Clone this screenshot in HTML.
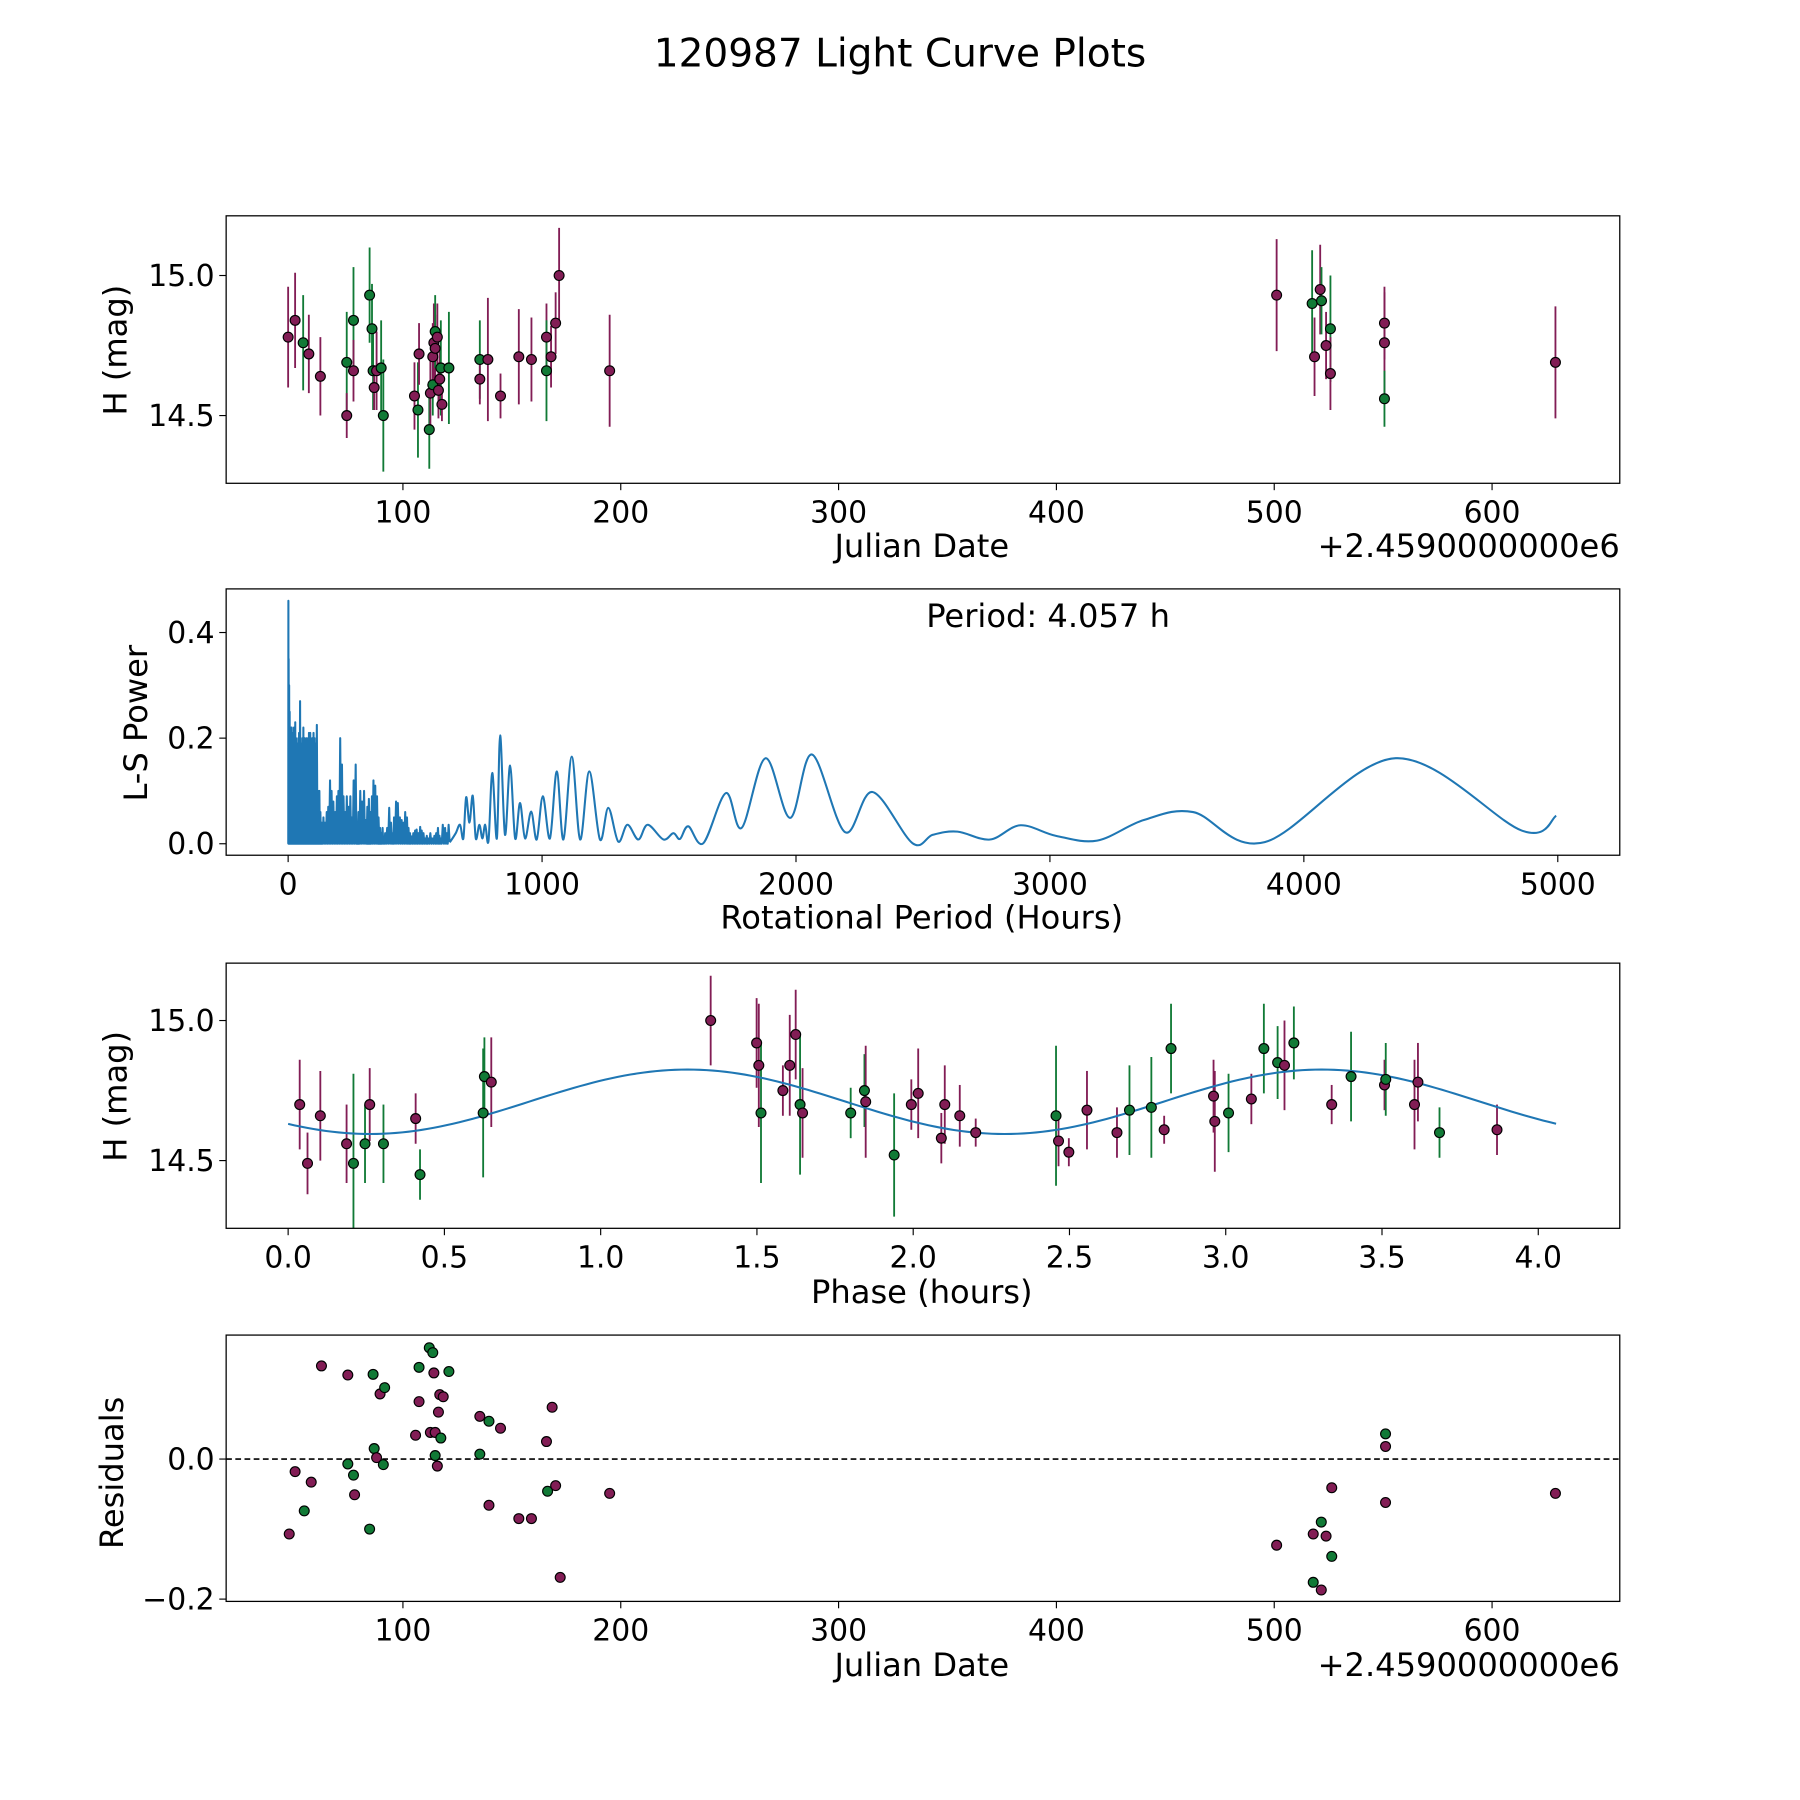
<!DOCTYPE html>
<html><head><meta charset="utf-8"><style>
html,body{margin:0;padding:0;background:#fff;}
svg{display:block;font-family:"DejaVu Sans","Liberation Sans",sans-serif;}
</style></head><body>
<svg id="fig" width="1800" height="1800" viewBox="0 0 1568 1568" xmlns="http://www.w3.org/2000/svg">
<rect width="1568" height="1568" fill="#fff"/>
<text x="784" y="58" font-size="34" text-anchor="middle">120987 Light Curve Plots</text>
<g id="layer"></g>
</svg>
<script>
// ---------- Panel 1: observations ----------
const obsDates=[47.3,50.5,54.2,56.8,62.1,74.2,74.2,77.3,77.3,84.7,85.8,86.3,86.8,87.9,90.0,91.0,105.3,106.9,107.4,112.1,112.6,113.7,113.7,114.2,114.8,114.8,115.8,116.3,116.9,117.4,117.9,121.1,135.3,135.3,139.0,144.8,153.2,159.0,165.9,165.9,168.0,170.1,171.7,194.9,501.1,517.4,518.5,521.1,521.7,523.8,525.8,525.8,550.6,550.6,550.6,629.1];
const obsMags=[14.78,14.84,14.76,14.72,14.64,14.69,14.50,14.84,14.66,14.93,14.81,14.66,14.60,14.66,14.67,14.50,14.57,14.52,14.72,14.45,14.58,14.61,14.71,14.76,14.74,14.80,14.78,14.59,14.63,14.67,14.54,14.67,14.70,14.63,14.70,14.57,14.71,14.70,14.78,14.66,14.71,14.83,15.00,14.66,14.93,14.90,14.71,14.95,14.91,14.75,14.81,14.65,14.83,14.76,14.56,14.69];
const obsErrs=[0.18,0.17,0.17,0.14,0.14,0.18,0.08,0.19,0.11,0.17,0.16,0.14,0.08,0.14,0.17,0.20,0.12,0.17,0.11,0.14,0.14,0.11,0.12,0.14,0.12,0.13,0.12,0.10,0.10,0.17,0.06,0.20,0.14,0.09,0.22,0.08,0.17,0.15,0.12,0.18,0.11,0.11,0.17,0.20,0.20,0.19,0.14,0.16,0.12,0.12,0.19,0.13,0.13,0.18,0.10,0.20];
const obsBand=["m","m","g","m","m","g","m","g","m","g","g","g","m","m","g","g","m","g","m","g","m","g","m","m","m","g","m","m","m","g","m","g","g","m","m","m","m","m","m","g","m","m","m","m","m","g","m","m","g","m","g","m","m","m","g","m"];
// ---------- Panel 2: periodogram ----------
const densePeriods=[1,2,4,6,8,10,12,14,17,20,23,26,28,31,34,37,40,43,47,50,53,56,60,63,66,70,74,78,82,87,91,95,100,104,108,113,118,123,127,132,139,145,152,158,165,171,178,185,192,198,205,212,218,225,231,238,245,251,258,266,272,277,284,291,299,306,312,318,323,330,336,343,350,356,362,367,372,377,382,390,398,405,412,417,425,432,440,447,454,461,468,474,480,486,493,500,506,513,520,526,533,540,546,552,560,568,576,583,590,596,601,609,618,625,632];
const densePowers=[0.46,0.35,0.3,0.25,0.21,0.2,0.22,0.22,0.2,0.21,0.22,0.18,0.23,0.2,0.19,0.17,0.2,0.21,0.27,0.19,0.16,0.2,0.22,0.18,0.2,0.15,0.2,0.19,0.21,0.21,0.18,0.2,0.21,0.2,0.19,0.225,0.1,0.1,0.06,0.04,0.05,0.04,0.06,0.07,0.12,0.1,0.08,0.06,0.09,0.1,0.2,0.15,0.09,0.06,0.09,0.07,0.09,0.05,0.12,0.15,0.04,0.06,0.1,0.08,0.10,0.045,0.07,0.085,0.06,0.09,0.12,0.11,0.09,0.05,0.03,0.02,0.03,0.01,0.02,0.03,0.068,0.04,0.02,0.05,0.08,0.077,0.05,0.045,0.04,0.06,0.05,0.03,0.02,0.014,0.02,0.025,0.027,0.02,0.032,0.025,0.02,0.01,0.015,0.01,0.02,0.01,0.015,0.02,0.03,0.015,0.01,0.036,0.03,0.02,0.036];
const smoothPeriods=[640,660,677,690,701,714,727,739,753,765,776,789,804,822,835,854,874,894,913,933,957,979,1003,1031,1058,1084,1117,1150,1186,1228,1261,1300,1336,1379,1416,1478,1517,1543,1576,1635,1724,1786,1880,1977,2063,2193,2301,2459,2539,2636,2764,2884,3024,3186,3370,3564,3846,4362,4858,4994];
const smoothPowers=[0.005,0.02,0.036,0.01,0.088,0.04,0.091,0.01,0.036,0.01,0.036,0.005,0.134,0.01,0.205,0.017,0.148,0.01,0.077,0.01,0.061,0.008,0.09,0.01,0.137,0.008,0.165,0.008,0.137,0.008,0.068,0.004,0.036,0.008,0.036,0.008,0.02,0.009,0.033,0.001,0.096,0.03,0.162,0.049,0.169,0.022,0.098,0.001,0.017,0.023,0.008,0.035,0.015,0.006,0.045,0.06,0.003,0.162,0.025,0.053];
const pTicks=[0,1000,2000,3000,4000,5000];
const powTicks=[0.0,0.2,0.4];
// ---------- Panel 3: phase folded ----------
const phases=[0.037,0.062,0.103,0.187,0.209,0.246,0.261,0.305,0.408,0.422,0.624,0.628,0.650,1.352,1.499,1.506,1.513,1.583,1.605,1.624,1.638,1.646,1.800,1.844,1.848,1.939,1.994,2.016,2.090,2.101,2.149,2.200,2.457,2.465,2.498,2.556,2.652,2.692,2.762,2.803,2.825,2.961,2.965,3.009,3.082,3.122,3.166,3.188,3.218,3.339,3.401,3.508,3.512,3.604,3.615,3.684,3.868];
const phaseMags=[14.70,14.49,14.66,14.56,14.49,14.56,14.70,14.56,14.65,14.45,14.67,14.80,14.78,15.00,14.92,14.84,14.67,14.75,14.84,14.95,14.70,14.67,14.67,14.75,14.71,14.52,14.70,14.74,14.58,14.70,14.66,14.60,14.66,14.57,14.53,14.68,14.60,14.68,14.69,14.61,14.90,14.73,14.64,14.67,14.72,14.90,14.85,14.84,14.92,14.70,14.80,14.77,14.79,14.70,14.78,14.60,14.61];
const phaseErrs=[0.16,0.11,0.16,0.14,0.32,0.14,0.13,0.14,0.09,0.09,0.23,0.14,0.16,0.16,0.16,0.22,0.25,0.09,0.18,0.16,0.25,0.16,0.09,0.13,0.20,0.22,0.09,0.16,0.09,0.14,0.11,0.05,0.25,0.09,0.05,0.14,0.09,0.16,0.18,0.05,0.16,0.13,0.18,0.14,0.09,0.16,0.13,0.16,0.13,0.07,0.16,0.09,0.13,0.16,0.14,0.09,0.09];
const phaseBand=["m","m","m","m","g","g","m","g","m","g","g","g","m","m","m","m","g","m","m","m","g","m","g","g","m","g","m","m","m","m","m","m","g","m","m","m","m","g","g","m","g","m","m","g","m","g","g","m","g","m","g","m","g","m","m","g","m"];
const fitParams=[14.71,0.115,0.77,2.03,4.057]; // mean, amplitude, phase0, half-period, period
const phaseTicks=[0.0,0.5,1.0,1.5,2.0,2.5,3.0,3.5,4.0];
// ---------- Panel 4: residuals ----------
const resDates=[47.8,50.5,54.7,57.9,62.6,74.7,74.7,77.3,77.8,84.7,86.3,86.8,87.9,89.5,91.0,91.6,105.8,107.4,107.4,112.1,112.6,113.7,114.2,114.8,114.8,115.8,116.3,116.9,117.4,118.5,121.1,135.3,135.3,139.5,139.5,144.8,153.2,159.0,165.9,166.4,168.5,170.1,172.2,194.9,501.1,517.9,517.9,521.6,521.6,523.8,526.4,526.4,551.1,551.1,551.1,629.1];
const resVals=[-0.107,-0.018,-0.074,-0.033,0.133,0.120,-0.007,-0.023,-0.051,-0.100,0.121,0.015,0.002,0.093,-0.008,0.102,0.034,0.131,0.082,0.159,0.038,0.152,0.123,0.038,0.005,-0.010,0.067,0.092,0.030,0.089,0.125,0.061,0.007,0.054,-0.066,0.044,-0.085,-0.085,0.025,-0.046,0.074,-0.038,-0.169,-0.049,-0.123,-0.107,-0.176,-0.187,-0.090,-0.110,-0.041,-0.139,0.036,0.018,-0.062,-0.049];
const resBand=["m","m","g","m","m","m","g","g","m","g","g","g","m","m","g","g","m","g","m","g","m","g","m","m","g","m","m","m","g","m","g","m","g","g","m","m","m","m","m","g","m","m","m","m","m","m","g","m","g","m","m","g","g","m","m","m"];
const jdTicks=[100,200,300,400,500,600];
const magTicks=[15.0,14.5];
const resTicks=[0.0,-0.2];

const NS="http://www.w3.org/2000/svg";
const layer=document.getElementById('layer');
const COL={m:"#821d55",g:"#117a36"};
const TICK=26, LAB=28;
function mk(tag,attrs,parent){const e=document.createElementNS(NS,tag);for(const k in attrs)e.setAttribute(k,attrs[k]);(parent||layer).appendChild(e);return e;}
function txt(s,x,y,size,anchor,parent,rot){const e=mk('text',{x:x,y:y,'font-size':size,'text-anchor':anchor||'middle'},parent);if(rot)e.setAttribute('transform','rotate(-90 '+x+' '+y+')');e.textContent=s;return e;}

const L=197,R=1411;
const panels=[{t:188,b:421},{t:513,b:745},{t:839,b:1070},{t:1163,b:1395}];
const xJD=v=>351+(v-100)*1.8975;
const yMag1=v=>240+(15-v)*244;
const xP=v=>251+v*0.2212;
const yPow=v=>735-v*460;
const xPh=v=>251+v*272.25;
const yMag3=v=>889+(15-v)*244;
const yRes=v=>1271-v*610;

function axesFrame(i,name){
  const p=panels[i];
  const g=mk('g',{});
  
  
  const cp=mk('clipPath',{id:'cp'+i},g);mk('rect',{x:L,y:p.t,width:R-L,height:p.b-p.t},cp);
  const plot=mk('g',{'clip-path':'url(#cp'+i+')'},g);
  return {g,plot,p};
}
function frame(ax){mk('rect',{x:L,y:ax.p.t,width:R-L,height:ax.p.b-ax.p.t,fill:'none',stroke:'#000','stroke-width':1.1},ax.g);}
function xTicks(ax,ticks,fx,fmt){ticks.forEach(v=>{const x=fx(v);mk('line',{x1:x,x2:x,y1:ax.p.b,y2:ax.p.b+6,stroke:'#000','stroke-width':1},ax.g);const t=txt(fmt(v),x,ax.p.b+34,TICK,'middle',ax.g);});}
function yTicks(ax,ticks,fy,fmt){ticks.forEach(v=>{const y=fy(v);mk('line',{x1:L-6,x2:L,y1:y,y2:y,stroke:'#000','stroke-width':1},ax.g);const t=txt(fmt(v),L-10,y+9,TICK,'end',ax.g);});}
const fmtNum=d=>v=>{let s=v.toFixed(d);if(v<0)s='\u2212'+(-v).toFixed(d);return s;};
function errPoint(plot,x,y,y1,y2,c){
  const l=mk('line',{x1:x,x2:x,y1:y1,y2:y2,stroke:c,'stroke-width':1.6},plot);
  
  
}
function dot(plot,x,y,c){
  const d=mk('circle',{cx:x,cy:y,r:4.3,fill:c,stroke:'#000','stroke-width':1},plot);
  
  
}

// Panel 1
let ax=axesFrame(0,'lightcurve-panel');
obsDates.forEach((d,i)=>{const x=xJD(d);errPoint(ax.plot,x,0,yMag1(obsMags[i]+obsErrs[i]),yMag1(obsMags[i]-obsErrs[i]),COL[obsBand[i]]);});
obsDates.forEach((d,i)=>dot(ax.plot,xJD(d),yMag1(obsMags[i]),COL[obsBand[i]]));
frame(ax);xTicks(ax,jdTicks,xJD,v=>String(v));yTicks(ax,magTicks,yMag1,fmtNum(1));
let t=txt('Julian Date',803,485,LAB,'middle',ax.g);
t=txt('+2.4590000000e6',1411,485,LAB,'end',ax.g);
t=txt('H (mag)',110,305,LAB,'middle',ax.g,true);

// Panel 2
ax=axesFrame(1,'periodogram-panel');
let dpath='M'+xP(0)+' '+yPow(0);
densePeriods.forEach((p,i)=>{const prev=i?densePeriods[i-1]:0;const mid=(prev+p)/2;dpath+=' L'+xP(mid).toFixed(2)+' '+yPow(0)+' L'+xP(p).toFixed(2)+' '+yPow(densePowers[i]).toFixed(2);});
dpath+=' L'+xP(636)+' '+yPow(0.003);
let pl=mk('path',{d:dpath,fill:'none',stroke:'#1f77b4','stroke-width':1.8,'stroke-linejoin':'round'},ax.plot);


const pts=[[xP(636),yPow(0.003)]].concat(smoothPeriods.map((p,i)=>[xP(p),yPow(smoothPowers[i])]));
let sp='M'+pts[0][0]+' '+pts[0][1];
for(let i=0;i<pts.length-1;i++){const p0=pts[Math.max(0,i-1)],p1=pts[i],p2=pts[i+1],p3=pts[Math.min(pts.length-1,i+2)];
  const c1=[p1[0]+(p2[0]-p0[0])/6,p1[1]+(p2[1]-p0[1])/6],c2=[p2[0]-(p3[0]-p1[0])/6,p2[1]-(p3[1]-p1[1])/6];
  sp+=' C'+c1[0].toFixed(2)+' '+c1[1].toFixed(2)+' '+c2[0].toFixed(2)+' '+c2[1].toFixed(2)+' '+p2[0].toFixed(2)+' '+p2[1].toFixed(2);}
pl=mk('path',{d:sp,fill:'none',stroke:'#1f77b4','stroke-width':1.8},ax.plot);


frame(ax);xTicks(ax,pTicks,xP,v=>String(v));yTicks(ax,powTicks,yPow,fmtNum(1));
t=txt('Period: 4.057 h',913,546,LAB,'middle',ax.g);
t=txt('Rotational Period (Hours)',803,809,LAB,'middle',ax.g);
t=txt('L-S Power',128,630,LAB,'middle',ax.g,true);

// Panel 3
ax=axesFrame(2,'phase-folded-panel');
phases.forEach((p,i)=>errPoint(ax.plot,xPh(p),0,yMag3(phaseMags[i]+phaseErrs[i]),yMag3(phaseMags[i]-phaseErrs[i]),COL[phaseBand[i]]));
let fp='';
for(let k=0;k<=200;k++){const ph=fitParams[4]*k/200;const m=fitParams[0]+fitParams[1]*Math.sin(2*Math.PI*(ph-fitParams[2])/fitParams[3]);fp+=(k?' L':'M')+xPh(ph).toFixed(2)+' '+yMag3(m).toFixed(2);}
pl=mk('path',{d:fp,fill:'none',stroke:'#1f77b4','stroke-width':1.8},ax.plot);


phases.forEach((p,i)=>dot(ax.plot,xPh(p),yMag3(phaseMags[i]),COL[phaseBand[i]]));
frame(ax);xTicks(ax,phaseTicks,xPh,v=>v.toFixed(1));yTicks(ax,magTicks,yMag3,fmtNum(1));
t=txt('Phase (hours)',803,1135,LAB,'middle',ax.g);
t=txt('H (mag)',110,955,LAB,'middle',ax.g,true);

// Panel 4
ax=axesFrame(3,'residuals-panel');
pl=mk('line',{x1:L,x2:R,y1:yRes(0),y2:yRes(0),stroke:'#000','stroke-width':1.4,'stroke-dasharray':'5,3'},ax.plot);


resDates.forEach((d,i)=>dot(ax.plot,xJD(d),yRes(resVals[i]),COL[resBand[i]]));
frame(ax);xTicks(ax,jdTicks,xJD,v=>String(v));yTicks(ax,resTicks,yRes,fmtNum(1));
t=txt('Julian Date',803,1460,LAB,'middle',ax.g);
t=txt('+2.4590000000e6',1411,1460,LAB,'end',ax.g);
t=txt('Residuals',107,1283,LAB,'middle',ax.g,true);
</script>
</body></html>
